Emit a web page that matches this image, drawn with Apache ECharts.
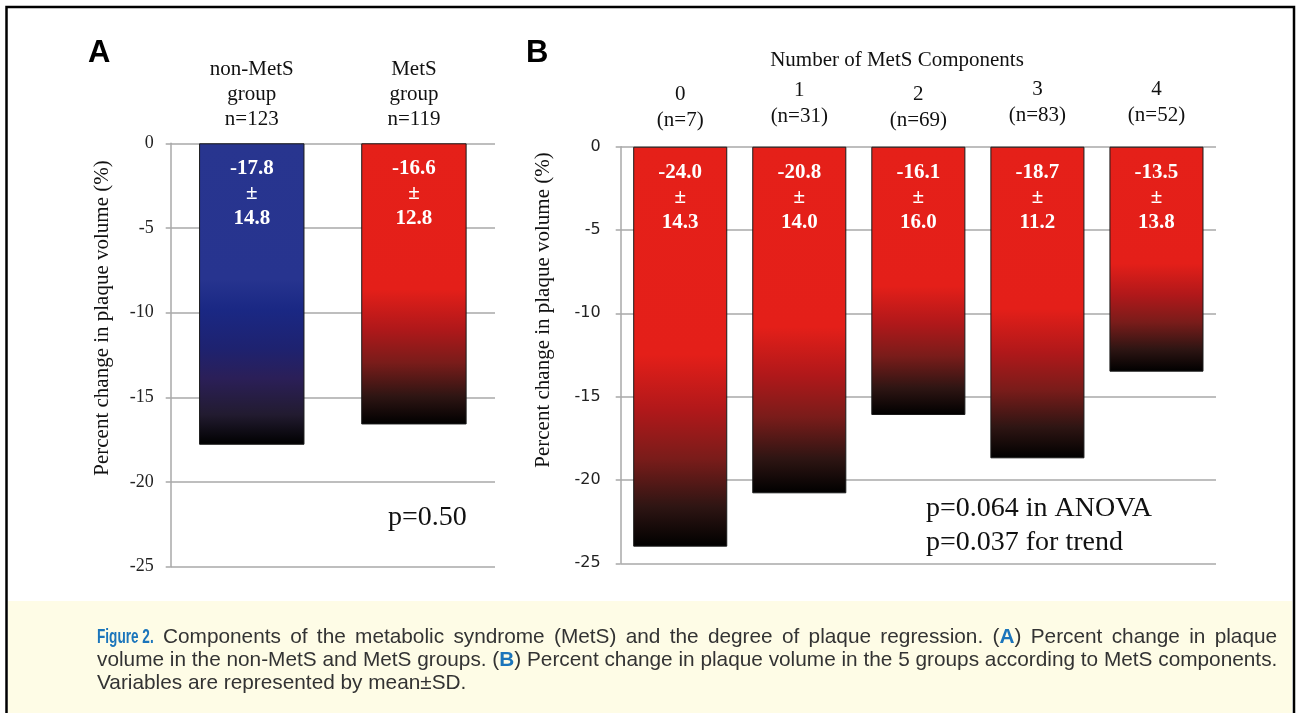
<!DOCTYPE html>
<html>
<head>
<meta charset="utf-8">
<script src="https://cdn.jsdelivr.net/npm/echarts@6/dist/echarts.min.js"></script>
<style>
html,body{margin:0;padding:0;background:#fff;}
#chart{width:1297px;height:713px;}
</style>
</head>
<body>
<div id="chart"></div>
<script>
// ---- data ----
const catsA = ['non-MetS\ngroup\nn=123', 'MetS\ngroup\nn=119'];
const valsA = [-17.8, -16.6];
const sdA = [14.8, 12.8];

const catsB = ['0\n(n=7)', '1\n(n=31)', '2\n(n=69)', '3\n(n=83)', '4\n(n=52)'];
const valsB = [-24.0, -20.8, -16.1, -18.7, -13.5];
const sdB = [14.3, 14.0, 16.0, 11.2, 13.8];

const yMin = -25, yMax = 0, yStep = 5;
const titleB = 'Number of MetS Components';
const yName = 'Percent change in plaque volume (%)';
const pA = 'p=0.50';
const pB = ['p=0.064 in ANOVA', 'p=0.037 for trend'];

// ---- styles ----
const SERIF = 'Liberation Serif, "Times New Roman", serif';
const SANS = 'Liberation Sans, Arial, sans-serif';
const GRID = '#a8a8a8';

function grad(stops) {
  return new echarts.graphic.LinearGradient(0, 0, 0, 1,
    stops.map(s => ({offset: s[0], color: s[1]})));
}
const redGrad = () => grad([[0, '#e52019'], [0.52, '#e41f19'], [0.66, '#b0181a'], [0.78, '#7a1c1a'], [0.9, '#2e1513'], [1, '#000000']]);
const blueGrad = () => grad([[0, '#28358f'], [0.45, '#27348f'], [0.55, '#1a2884'], [0.68, '#1e2270'], [0.78, '#2b1f58'], [0.9, '#221b30'], [1, '#000000']]);

const barLabel = (sds) => ({
  show: true,
  position: 'insideTop',
  distance: 13,
  formatter: p => '{v|' + p.value.toFixed(1) + '}\n{v|±}\n{v|' + sds[p.dataIndex].toFixed(1) + '}',
  rich: {v: {fontFamily: SERIF, fontWeight: 'bold', fontSize: 21, color: '#fff', lineHeight: 25, align: 'center'}}
});

const yAxisBase = (gi, font, fs, margin) => ({
  gridIndex: gi, type: 'value', min: yMin, max: yMax, interval: yStep,
  axisLine: {show: true, lineStyle: {color: GRID, width: 1.5}},
  axisTick: {show: true, length: 5, lineStyle: {color: GRID, width: 1.5}},
  splitLine: {show: true, lineStyle: {color: GRID, width: 1.5}},
  axisLabel: {fontFamily: font, fontSize: fs, color: '#222', margin: margin}
});

// caption (justified first line via fixed-width space tokens)
const cap1 = '{t|Components of the metabolic syndrome (MetS) and the degree of plaque regression. (}{b|A}{t|) Percent change in plaque}'
  .replace(/ /g, '}{s| }{t|');
const cap2 = '{t|volume in the non-MetS and MetS groups. (}{b|B}{t|) Percent change in plaque volume in the 5 groups according to MetS components.}\n' +
             '{t|Variables are represented by mean\u00B1SD.}';
const CAPFS = 20.8;
const capRich = {
  t: {fontFamily: SANS, fontSize: CAPFS, fill: '#333', lineHeight: 23},
  b: {fontFamily: SANS, fontWeight: 'bold', fontSize: CAPFS, fill: '#1b75bb', lineHeight: 23},
  s: {fontFamily: SANS, fontSize: CAPFS, width: 9.3, lineHeight: 23}
};

const padB = [0, 4, 0, 5, 5];
const chart = echarts.init(document.getElementById('chart'), null, {renderer: 'canvas'});
const option = {
  animation: false,
  backgroundColor: '#ffffff',
  grid: [
    {left: 170.7, top: 143.3, width: 324.3, height: 423.4},
    {left: 620.7, top: 146.7, width: 595.3, height: 416.6}
  ],
  xAxis: [
    {gridIndex: 0, type: 'category', position: 'top', data: catsA,
     axisLine: {show: false}, axisTick: {show: false},
     axisLabel: {fontFamily: SERIF, fontSize: 21, color: '#111', lineHeight: 25, margin: 11}},
    {gridIndex: 1, type: 'category', position: 'top',
     data: catsB.map((c, i) => ({value: c, textStyle: {padding: [0, 0, padB[i], 0]}})),
     axisLine: {show: false}, axisTick: {show: false},
     axisLabel: {fontFamily: SERIF, fontSize: 21, color: '#111', lineHeight: 26, margin: 13}}
  ],
  yAxis: [
    yAxisBase(0, SERIF, 18, 17),
    yAxisBase(1, 'DejaVu Sans, Verdana, sans-serif', 16, 20)
  ],
  series: [
    {type: 'bar', xAxisIndex: 0, yAxisIndex: 0, barWidth: '65%',
     data: valsA.map((v, i) => ({value: v, itemStyle: {color: i === 0 ? blueGrad() : redGrad()}})),
     itemStyle: {borderColor: '#1a1a1a', borderWidth: 1},
     label: barLabel(sdA)},
    {type: 'bar', xAxisIndex: 1, yAxisIndex: 1, barWidth: '79%',
     data: valsB.map(v => ({value: v, itemStyle: {color: redGrad()}})),
     itemStyle: {borderColor: '#1a1a1a', borderWidth: 1},
     label: barLabel(sdB)}
  ],
  graphic: [
    {type: 'rect', silent: true, z: -10, shape: {x: 8, y: 601, width: 1284, height: 120}, style: {fill: '#fefce6'}},
    {type: 'rect', silent: true, z: 100, shape: {x: 6.5, y: 7, width: 1287.5, height: 730}, style: {fill: 'none', stroke: '#000', lineWidth: 2.5}},
    {type: 'text', x: 88, y: 53, style: {text: 'A', font: 'bold 31px ' + SANS, fill: '#000', textVerticalAlign: 'middle'}},
    {type: 'text', x: 526, y: 53, style: {text: 'B', font: 'bold 31px ' + SANS, fill: '#000', textVerticalAlign: 'middle'}},
    {type: 'text', x: 897, y: 60, style: {text: titleB, font: '21px ' + SERIF, fill: '#111', textAlign: 'center', textVerticalAlign: 'middle'}},
    {type: 'text', x: 102, y: 318, rotation: Math.PI / 2, style: {text: yName, font: '21px ' + SERIF, fill: '#111', textAlign: 'center', textVerticalAlign: 'middle'}},
    {type: 'text', x: 543, y: 310, rotation: Math.PI / 2, style: {text: yName, font: '21px ' + SERIF, fill: '#111', textAlign: 'center', textVerticalAlign: 'middle'}},
    {type: 'text', x: 388, y: 518, style: {text: pA, font: '28px ' + SERIF, fill: '#111', textVerticalAlign: 'middle'}},
    {type: 'text', x: 926, y: 509, style: {text: pB[0], font: '28px ' + SERIF, fill: '#111', textVerticalAlign: 'middle'}},
    {type: 'text', x: 926, y: 543, style: {text: pB[1], font: '28px ' + SERIF, fill: '#111', textVerticalAlign: 'middle'}},
    {type: 'text', x: 97, y: 637, scaleX: 0.68, z: 50, style: {text: 'Figure 2.', font: 'bold 20px ' + SANS, fill: '#1b75bb', textVerticalAlign: 'middle'}},
    {type: 'text', x: 163, y: 626, z: 50, style: {text: cap1, textVerticalAlign: 'top', rich: capRich}},
    {type: 'text', x: 97, y: 649, z: 50, style: {text: cap2, textVerticalAlign: 'top', rich: capRich}}
  ]
};
chart.setOption(option);
</script>
</body>
</html>
